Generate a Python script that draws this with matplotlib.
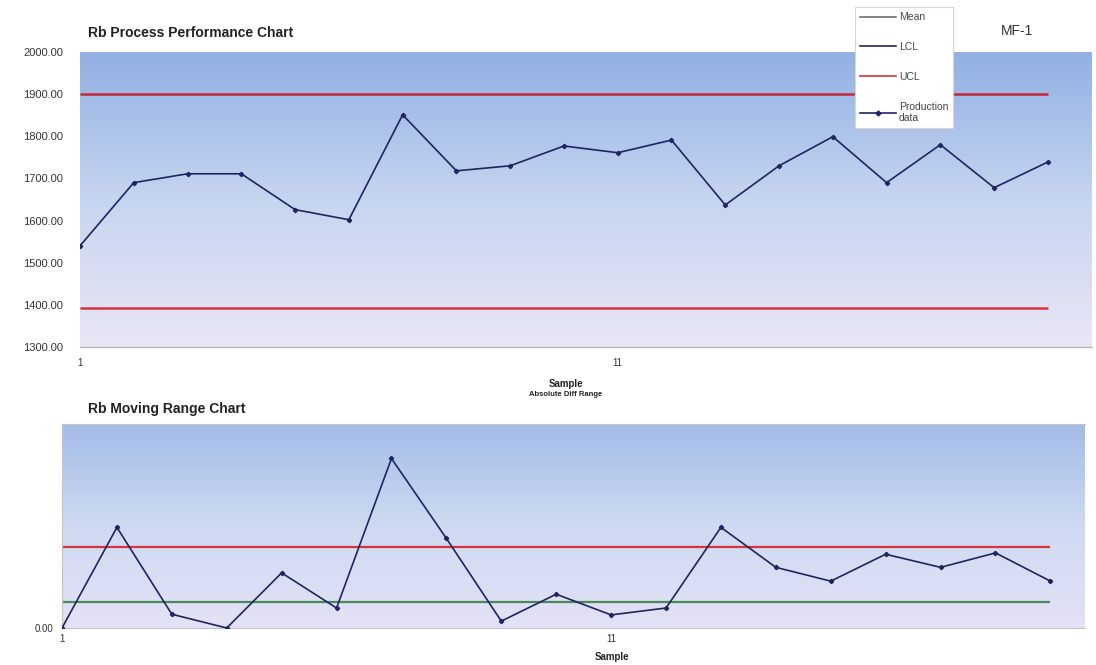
import numpy as np
import matplotlib
matplotlib.use("Agg")
import matplotlib.pyplot as plt
from matplotlib.lines import Line2D

plt.rcParams['font.family'] = ['Liberation Sans', 'DejaVu Sans']

samples = list(range(1, 20))
production = [1540, 1690, 1711, 1711, 1626, 1602, 1851, 1718, 1730, 1777,
              1761, 1791, 1637, 1730, 1799, 1690, 1780, 1678, 1739]
moving_range = [0, 146, 20, 0, 80, 29, 246, 130, 10, 49,
                19, 29, 146, 88, 68, 107, 88, 109, 68]
ucl_top, lcl_top = 1900, 1393
mr_mean, mr_ucl = 38, 117
top_ticks = [1300, 1400, 1500, 1600, 1700, 1800, 1900, 2000]
x_ticks = [1, 11]

navy = '#1e2560'
red = '#d8333c'
green = '#4a8a5a'

W, H = 1096, 665
fig = plt.figure(figsize=(W / 100, H / 100), dpi=100)


def px_axes(left, top, right, bottom):
    return fig.add_axes([left / W, 1 - bottom / H, (right - left) / W, (bottom - top) / H])


def gradient(ax, top_rgb, mid_rgb, bot_rgb):
    t = np.linspace(0, 1, 256)[:, None]
    top_rgb, mid_rgb, bot_rgb = [np.array(c) / 255 for c in (top_rgb, mid_rgb, bot_rgb)]
    img = np.where(t < 0.5,
                   top_rgb + (mid_rgb - top_rgb) * (t / 0.5),
                   mid_rgb + (bot_rgb - mid_rgb) * ((t - 0.5) / 0.5))
    img = img[:, None, :].repeat(2, axis=1)
    ax.imshow(img, extent=[0, 1, 0, 1], transform=ax.transAxes,
              aspect='auto', zorder=0, interpolation='bilinear')


# process chart
ax1 = px_axes(80, 52, 1092, 347)
gradient(ax1, (146, 176, 228), (198, 213, 240), (234, 230, 247))
ax1.hlines(ucl_top, 1, 19, color='#c42e40', lw=1.9, zorder=2)
ax1.hlines(lcl_top, 1, 19, color=red, lw=1.8, zorder=2)
ax1.plot(samples, production, color=navy, lw=1.2, marker='D', ms=2.2, zorder=3)
ax1.set_xlim(1, 19.82)
ax1.set_ylim(1300, 2000)
ax1.set_yticks(top_ticks)
ax1.set_yticklabels([f"{v:.2f}" for v in top_ticks], fontsize=8, color='#333333')
ax1.set_xticks(x_ticks)
ax1.set_xticklabels([str(v) for v in x_ticks], fontsize=7, color='#333333')
ax1.tick_params(length=0, axis='y', pad=12)
ax1.tick_params(length=0, axis='x', pad=8)
for s in ('top', 'right', 'left'):
    ax1.spines[s].set_visible(False)
ax1.spines['bottom'].set_color('#b8b8b8')
ax1.spines['bottom'].set_linewidth(1.0)

# moving range chart
ax2 = px_axes(62, 424, 1085, 628)
gradient(ax2, (164, 188, 232), (206, 218, 242), (228, 226, 246))
ax2.hlines(mr_ucl, 1, 19, color=red, lw=1.6, zorder=2)
ax2.hlines(mr_mean, 1, 19, color=green, lw=1.6, zorder=2)
ax2.plot(samples, moving_range, color=navy, lw=1.2, marker='D', ms=2.2, zorder=3)
ax2.set_xlim(1, 19.63)
ax2.set_ylim(0, 296)
ax2.set_yticks([0])
ax2.set_yticklabels(["0.00"], fontsize=7, color='#333333')
ax2.set_xticks(x_ticks)
ax2.set_xticklabels([str(v) for v in x_ticks], fontsize=7, color='#333333')
ax2.tick_params(length=0, axis='y', pad=6)
ax2.tick_params(length=0, axis='x', pad=4)
for s in ax2.spines.values():
    s.set_color('#c4c4c4')
    s.set_linewidth(0.8)
ax2.spines['right'].set_visible(False)

# titles and labels
fig.text(88 / W, 1 - 33 / H, "Rb Process Performance Chart", fontsize=10,
         fontweight='bold', color='#222222', va='center')
fig.text(88 / W, 1 - 409 / H, "Rb Moving Range Chart", fontsize=10,
         fontweight='bold', color='#222222', va='center')
fig.text(566 / W, 1 - 384 / H, "Sample", fontsize=7, fontweight='bold',
         color='#222222', ha='center', va='center')
fig.text(566 / W, 1 - 395 / H, "Absolute Diff Range", fontsize=5.5, fontweight='bold',
         color='#222222', ha='center', va='center')
fig.text(612 / W, 1 - 657 / H, "Sample", fontsize=7, fontweight='bold',
         color='#222222', ha='center', va='center')
fig.text(1001 / W, 1 - 31 / H, "MF-1", fontsize=10, color='#333333', va='center')

handles = [Line2D([], [], color='#6c7070', lw=1.2),
           Line2D([], [], color=navy, lw=1.2),
           Line2D([], [], color=red, lw=1.2),
           Line2D([], [], color=navy, lw=1.2, marker='D', ms=2.5)]
labels = ["Mean", "LCL", "UCL", "Production\ndata"]
leg = fig.legend(handles, labels, loc='upper left',
                 bbox_to_anchor=(855 / W, 1 - 7 / H), fontsize=7.5,
                 labelspacing=1.9, handlelength=3.4, handletextpad=0.3,
                 borderpad=0.5, borderaxespad=0.0, fancybox=False, framealpha=1)
leg.get_frame().set_edgecolor('#d6d6d6')
leg.get_frame().set_linewidth(0.8)
for txt in leg.get_texts():
    txt.set_color('#444444')

fig.savefig("out.png", dpi=100)
